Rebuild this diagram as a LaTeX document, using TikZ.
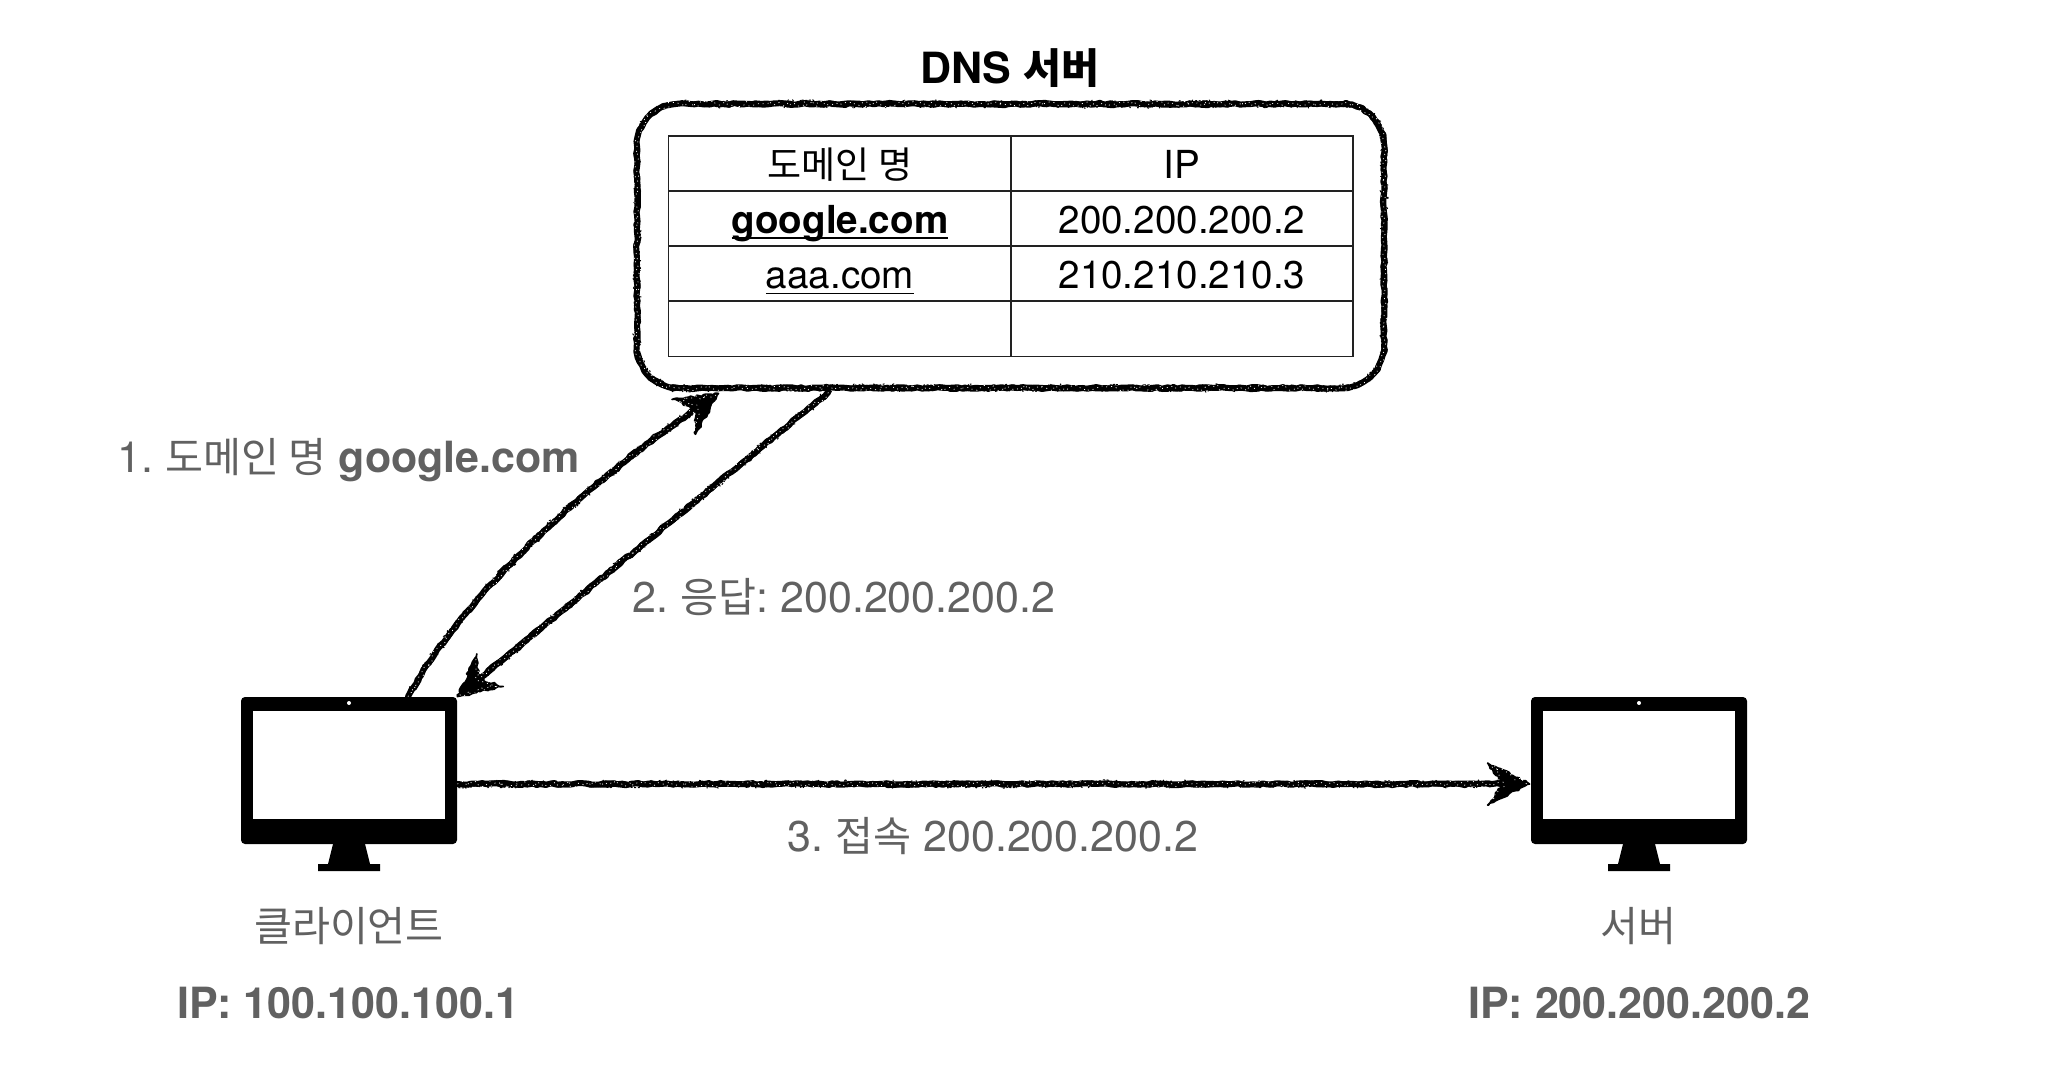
\documentclass[tikz,border=0pt]{standalone}
\usepackage{fontspec}
\setmainfont{TeX Gyre Heros}
\newfontfamily\kr[Scale=0.96]{Noto Sans CJK KR}
\usetikzlibrary{decorations.pathmorphing,calc}
\pgfmathsetseed{4217}
\definecolor{labelgray}{HTML}{616161}
\definecolor{rulegray}{HTML}{222222}
\frenchspacing
\newcommand\sketchdraw[2][]{%
  \draw[roughA,#1] #2;
  \draw[roughB,#1] #2;
  \draw[roughD,#1] #2;
  \draw[roughC,#1] #2;}
\newcommand\cellul[2]{{\sbox0{#2}\rlap{\rule[-2.6pt]{\wd0}{#1}}\box0}}
\tikzset{
  x=0.5pt,y=-0.5pt,
  roughA/.style={draw=black,line width=3pt,line cap=round,line join=round,
    decorate,decoration={random steps,segment length=2.5pt,amplitude=.4pt}},
  roughB/.style={draw=black,line width=2.2pt,line cap=round,line join=round,
    decorate,decoration={random steps,segment length=3pt,amplitude=1pt}},
  roughD/.style={draw=black,line width=.5pt,line join=round,dash pattern=on 1pt off .8pt,
    decorate,decoration={random steps,segment length=1.2pt,amplitude=2.1pt}},
  roughC/.style={draw=white,line width=.35pt,line join=round,dash pattern=on .5pt off 2pt,
    decorate,decoration={random steps,segment length=1.5pt,amplitude=1.5pt}},
  sketchfill/.style={fill=black,draw=black,line width=.8pt,line join=round,
    decorate,decoration={random steps,segment length=1.5pt,amplitude=.7pt}},
  sketchhead/.pic={
    \path[sketchfill] (0,0)--(-42,-21)--(-27,0)--(-42,21)--cycle;
    \path[roughC] (-3,0)--(-38,-17)--(-25,0)--(-38,17);
  },
  monitor/.pic={
    \fill[black,rounded corners=2pt] (-108,-87) rectangle (108,60);
    \fill[white] (-96,-73) rectangle (96,35);
    \fill[white] (0,-81) circle[radius=2];
    \fill[black] (-16,60)--(16,60)--(21,80)--(31,80)--(31,87)--(-31,87)--(-31,80)--(-21,80)--cycle;
  },
  hitbox/.style={minimum width=108pt,minimum height=87pt,inner sep=0pt},
  dnsbox/.style={minimum width=373.5pt,minimum height=142pt,inner sep=0pt},
  celltext/.style={anchor=base,inner sep=0pt,font=\fontsize{19.3pt}{23pt}\selectfont,text=black},
  titletext/.style={anchor=base,inner sep=0pt,font=\fontsize{21.5pt}{26pt}\selectfont\bfseries,text=black},
  graytext/.style={anchor=base,inner sep=0pt,font=\fontsize{21.5pt}{26pt}\selectfont,text=labelgray},
  graybold/.style={graytext,font=\fontsize{21.5pt}{26pt}\selectfont\bfseries},
  tablerule/.style={draw=rulegray,line width=.7pt},
}
\begin{document}
\begin{tikzpicture}
\useasboundingbox (0,0) rectangle (2048,1085);
\fill[white] (0,0) rectangle (2048,1085);

% DNS server
\node[titletext] (dnstitle) at (1010,84) {DNS {\kr 서버}};
\node[dnsbox] (dns) at (1010.5,246) {};
\sketchdraw[shift={(dns.center)}]{(0,-142) -- (331.5,-142) .. controls (354.5,-142) and (373.5,-123) .. (373.5,-100) -- (373.5,100) .. controls (373.5,123) and (354.5,142) .. (331.5,142) -- (-331.5,142) .. controls (-354.5,142) and (-373.5,123) .. (-373.5,100) -- (-373.5,-100) .. controls (-373.5,-123) and (-354.5,-142) .. (-331.5,-142) -- (0,-142)}

% table
\coordinate (tnw) at (668.5,136);
\coordinate (tse) at (1353,356.5);
\draw[tablerule] (tnw) rectangle (tse);
\draw[tablerule] (1011,136) -- (1011,356.5);
\draw[tablerule] (668.5,191) -- (1353,191);
\draw[tablerule] (668.5,246) -- (1353,246);
\draw[tablerule] (668.5,301) -- (1353,301);
\node[celltext] (h1) at (840,179) {\kr 도메인 명};
\node[celltext] (h2) at (1182,179) {IP};
\node[celltext] (c11) at (840,234) {\cellul{1.1pt}{\textbf{google.com}}};
\node[celltext] (c12) at (1182,234) {200.200.200.2};
\node[celltext] (c21) at (840,289) {\cellul{.8pt}{aaa.com}};
\node[celltext] (c22) at (1182,289) {210.210.210.3};

% computers
\node[hitbox] (client) at (349,784) {};
\pic at (client) {monitor};
\node[hitbox] (server) at (1639,784) {};
\pic at (server) {monitor};

% connectors
\coordinate (tipa) at ([yshift=-2.5pt]dns.206);
\coordinate (necka) at ([shift={(-19,13)}]tipa);
\coordinate (starta) at (client.56);
\sketchdraw{(starta) .. controls +(58,-105) and +(-110,75) .. (necka)}
\pic[rotate=34] at (tipa) {sketchhead};

\coordinate (startb) at ([yshift=-2pt]dns.218.2);
\coordinate (tipb) at (client.north east);
\coordinate (neckb) at ($(tipb)!11pt!(startb)$);
\sketchdraw{(startb) -- (neckb)}
\pic[rotate=219] at (tipb) {sketchhead};

\coordinate (tipc) at ([xshift=-.5pt]server.west);
\coordinate (neckc) at ($(tipc)!11pt!(client.east)$);
\sketchdraw{(client.east) -- (neckc)}
\pic at (tipc) {sketchhead};

% labels
\node[graytext] (l1) at (349,472) {1. {\kr 도메인 명} \textbf{google.com}};
\node[graytext] (l2) at (844,612) {2. {\kr 응답}: 200.200.200.2};
\node[graytext] (l3) at (993,851) {3. {\kr 접속} 200.200.200.2};
\node[graytext] (n1) at (349,941) {\kr 클라이언트};
\node[graytext] (n2) at (1638,941) {\kr 서버};
\node[graybold] (ip1) at (348,1018) {IP: 100.100.100.1};
\node[graybold] (ip2) at (1639,1018) {IP: 200.200.200.2};
\end{tikzpicture}
\end{document}
